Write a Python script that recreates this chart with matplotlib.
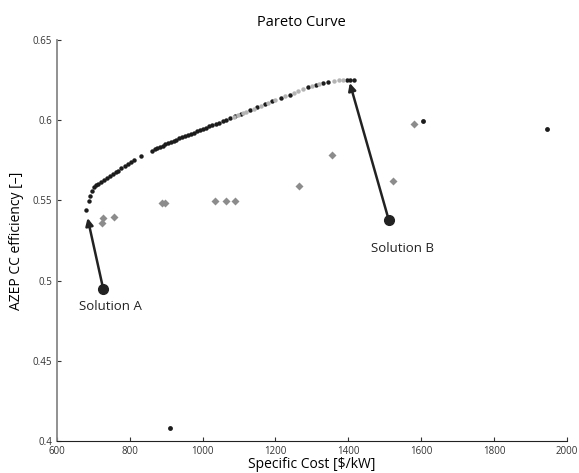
import matplotlib.pyplot as plt

plt.rcParams['font.family'] = ['Open Sans', 'DejaVu Sans']

# pareto front, dark points
front_x = [679, 688, 692, 697, 703, 708, 714, 720, 728, 738, 746, 753, 761, 768,
           776, 786, 795, 803, 812, 831, 862, 868, 876, 883, 890, 897, 905, 912,
           920, 928, 936, 944, 952, 960, 968, 976, 985, 993, 1001, 1010, 1018,
           1027, 1036, 1045, 1055, 1065, 1075, 1090, 1105, 1130, 1150, 1170,
           1190, 1215, 1240, 1290, 1310, 1330, 1345, 1395, 1405, 1415]
front_y = [0.5440, 0.5495, 0.5530, 0.5560, 0.5585, 0.5598, 0.5605, 0.5613,
           0.5625, 0.5640, 0.5655, 0.5665, 0.5676, 0.5685, 0.5700, 0.5713,
           0.5727, 0.5738, 0.5750, 0.5779, 0.5810, 0.5818, 0.5825, 0.5833,
           0.5840, 0.5850, 0.5858, 0.5865, 0.5872, 0.5879, 0.5886, 0.5893,
           0.5900, 0.5908, 0.5916, 0.5923, 0.5931, 0.5939, 0.5946, 0.5954,
           0.5961, 0.5969, 0.5976, 0.5984, 0.5993, 0.6003, 0.6013, 0.6026,
           0.6040, 0.6063, 0.6082, 0.6100, 0.6118, 0.6140, 0.6160, 0.6205,
           0.6220, 0.6233, 0.6240, 0.6250, 0.6252, 0.6250]

# lighter points along the front
light_x = [1085, 1098, 1112, 1120, 1140, 1160, 1180, 1200, 1225, 1250, 1262,
           1275, 1300, 1320, 1360, 1375, 1385]
light_y = [0.6022, 0.6034, 0.6046, 0.6054, 0.6072, 0.6090, 0.6108, 0.6126,
           0.6148, 0.6170, 0.6180, 0.6192, 0.6212, 0.6227, 0.6245, 0.6248,
           0.6250]

# dominated solutions (grey diamonds)
dom_x = [724, 727, 757, 888, 896, 1034, 1064, 1089, 1264, 1355, 1522, 1580]
dom_y = [0.5361, 0.5392, 0.5397, 0.5486, 0.5486, 0.5498, 0.5498, 0.5498,
         0.5592, 0.5785, 0.5623, 0.5976]

# isolated dark points
iso_x = [1605, 1945, 910]
iso_y = [0.5997, 0.5945, 0.408]

# annotated solutions: (label, start, tip, label pos)
sol_a = ('Solution A', (727, 0.4948), (684, 0.5390), (748, 0.4836))
sol_b = ('Solution B', (1511, 0.5378), (1404, 0.6232), (1550, 0.5203))

xticks = [600, 800, 1000, 1200, 1400, 1600, 1800, 2000]
yticks = [0.4, 0.45, 0.5, 0.55, 0.6, 0.65]
ytick_labels = ['0.4', '0.45', '0.5', '0.55', '0.6', '0.65']

fig = plt.figure(figsize=(5.79, 4.73), dpi=100)
ax = fig.add_axes([0.0984, 0.0677, 0.8806, 0.8477])

ax.plot(dom_x, dom_y, 'D', color='#8c8c8c', ms=4, mec='none')
ax.plot(front_x, front_y, 'o', color='#1c1c1c', ms=3.2, mec='none')
ax.plot(light_x, light_y, 'o', color='#b4b4b4', ms=3.2, mec='none')
ax.plot(iso_x, iso_y, 'o', color='#1c1c1c', ms=3.5, mec='none')

for label, start, tip, pos in [sol_a, sol_b]:
    ax.annotate('', xy=tip, xytext=start,
                arrowprops=dict(arrowstyle='-|>', lw=1.8, color='#222222',
                                mutation_scale=11, shrinkA=0, shrinkB=0))
    ax.plot(*start, 'o', color='#222222', ms=7)
    ax.text(pos[0], pos[1], label, ha='center', va='center', fontsize=9.5,
            color='#222222')

ax.set_xlim(600, 2000)
ax.set_ylim(0.4, 0.65)
ax.set_xticks(xticks)
ax.set_xticklabels([str(t) for t in xticks])
ax.set_yticks(yticks)
ax.set_yticklabels(ytick_labels)
ax.tick_params(direction='in', length=3, labelsize=7, colors='#333333')

ax.spines['top'].set_visible(False)
ax.spines['right'].set_visible(False)
ax.spines['left'].set_color('#888888')
ax.spines['left'].set_linewidth(1.3)
ax.spines['bottom'].set_color('#222222')

ax.set_title('Pareto Curve', fontsize=10.5, pad=10, x=0.48)
ax.set_xlabel('Specific Cost [$/kW]', fontsize=10, labelpad=0)
ax.set_ylabel('AZEP CC efficiency [–]', fontsize=10, labelpad=6)

fig.savefig('out.png', dpi=100)
